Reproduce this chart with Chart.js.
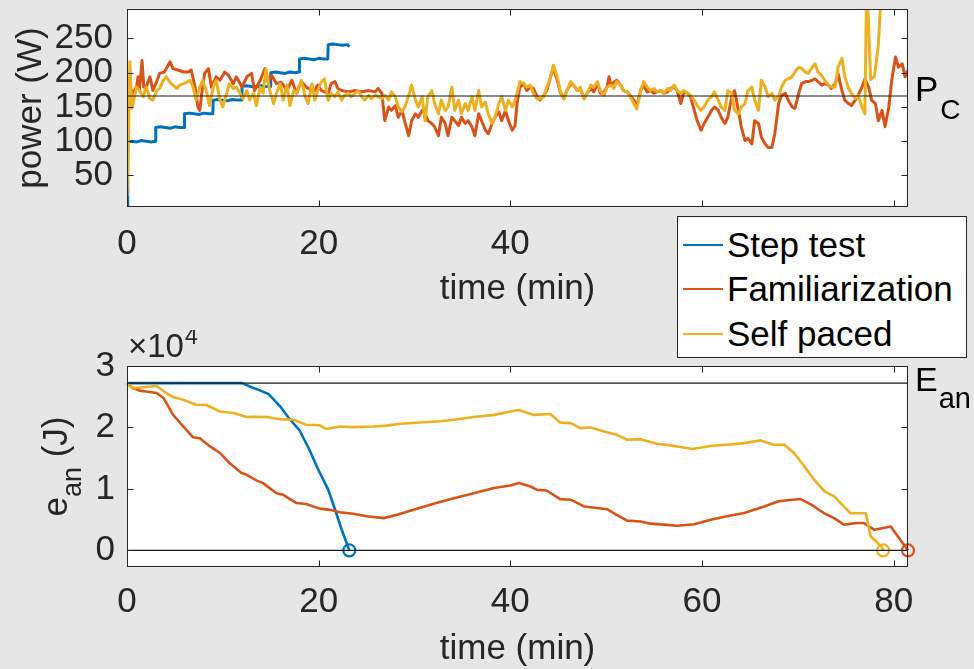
<!DOCTYPE html>
<html>
<head>
<meta charset="utf-8">
<script src="https://cdn.jsdelivr.net/npm/chart.js@4/dist/chart.umd.min.js"></script>
<style>
html,body{margin:0;padding:0;width:974px;height:669px;overflow:hidden;background:#e6e6e6;}
canvas{position:absolute;left:0;}
#c1{top:0;}
#c2{top:330px;}
#legend{position:absolute;left:677px;top:216px;width:290px;height:142px;box-sizing:border-box;background:#fff;border:1px solid #262626;font-family:'Liberation Sans',Arial,Helvetica,sans-serif;font-size:35px;color:#000;z-index:5;}
#legend .row{position:absolute;left:0;height:40px;line-height:40px;white-space:nowrap;}
#legend .sw{position:absolute;left:5px;top:19px;width:40px;height:2px;}
#legend .tx{position:absolute;left:49px;top:0;}
</style>
</head>
<body>
<canvas id="c1" width="974" height="330"></canvas>
<canvas id="c2" width="974" height="339"></canvas>
<div id="legend">
  <div class="row" style="top:8px"><span class="sw" style="background:#0072BD"></span><span class="tx">Step test</span></div>
  <div class="row" style="top:52px"><span class="sw" style="background:#D95319"></span><span class="tx">Familiarization</span></div>
  <div class="row" style="top:97px"><span class="sw" style="background:#EDB120"></span><span class="tx">Self paced</span></div>
</div>
<script>
// ---------- axis limits and ticks ----------
const timeMin = 0, timeMax = 81.5;
const timeTicks = [0, 20, 40, 60, 80];
const powerMin = 4, powerMax = 293;
const powerTicks = [50, 100, 150, 200, 250];
const energyMin = -2700, energyMax = 30000;
const energyTicks = [0, 10000, 20000, 30000];
const criticalPower = 166;        // P_C (W)
const anaerobicCapacity = 27220;  // E_an (J)

// ---------- power (W) ----------
const stepTime = [
  0, 0.05, 0.1, 0.5, 1.0, 1.5, 2.0, 2.5, 2.95, 3.0,
  3.5, 4.0, 4.5, 5.0, 5.5, 5.95, 6.0, 6.5, 7.0, 7.5,
  8.0, 8.5, 8.95, 9.0, 9.5, 10.0, 10.5, 11.0, 11.5, 11.95,
  12.0, 12.5, 13.0, 13.5, 14.0, 14.5, 14.95, 15.0, 15.5, 16.0,
  16.5, 17.0, 17.5, 17.95, 18.0, 18.5, 19.0, 19.5, 20.0, 20.5,
  20.95, 21.0, 21.5, 22.0, 22.5, 23.0, 23.2
];
const stepPower = [
  4, 60, 99, 100, 99, 101, 100, 99, 100, 120,
  121, 120, 119, 121, 120, 120, 140, 141, 140, 139,
  141, 140, 140, 160, 161, 160, 159, 161, 160, 160,
  180, 181, 180, 179, 181, 180, 180, 200, 201, 200,
  199, 201, 200, 201, 220, 221, 220, 219, 221, 220,
  220, 241, 242, 241, 240, 241, 238
];

const famTime = [
  0, 0.15, 0.3, 0.6, 1.0, 1.15, 1.3, 1.57, 1.75, 2.0,
  2.4, 2.7, 3.1, 3.4, 3.9, 4.5, 4.8, 5.3, 5.9, 6.4,
  6.7, 7.1, 7.4, 7.6, 7.8, 8.1, 8.5, 8.8, 9.3, 9.7,
  10.2, 10.6, 11.1, 11.4, 12.0, 12.5, 13.0, 13.3, 13.9, 14.4,
  14.7, 15.1, 15.6, 16.1, 16.7, 17.2, 17.7, 18.2, 18.7, 19.3,
  19.6, 19.9, 20.3, 21.0, 21.3, 21.7, 22.0, 22.4, 23.1, 23.8,
  24.5, 25.2, 25.9, 26.2, 26.6, 26.9, 27.3, 27.6, 28.0, 28.3,
  28.7, 29.0, 29.4, 29.7, 30.1, 30.4, 30.8, 31.1, 31.4, 31.8,
  32.1, 32.5, 32.8, 33.2, 33.5, 33.9, 34.2, 34.6, 34.9, 35.3,
  35.6, 36.0, 36.3, 36.7, 37.0, 37.4, 37.7, 38.1, 38.4, 38.8,
  39.1, 39.5, 39.8, 40.2, 40.5, 40.7, 41.0, 41.4, 41.7, 42.1,
  42.4, 42.8, 43.1, 43.5, 43.8, 44.2, 44.5, 44.9, 45.2, 45.6,
  45.9, 46.3, 46.6, 47.0, 47.3, 47.7, 48.0, 48.4, 48.7, 49.1,
  49.4, 49.8, 50.1, 50.3, 50.5, 50.8, 51.1, 51.5, 51.8, 52.2,
  52.5, 52.9, 53.2, 53.6, 53.9, 54.3, 54.6, 55.0, 55.3, 55.7,
  56.0, 56.4, 56.7, 57.1, 57.4, 57.8, 58.1, 58.5, 58.8, 59.2,
  59.5, 59.9, 60.2, 60.6, 61.0, 61.3, 61.7, 62.0, 62.4, 62.7,
  63.1, 63.4, 63.8, 64.1, 64.5, 64.8, 65.2, 65.5, 65.9, 66.2,
  66.6, 66.9, 67.3, 67.6, 68.0, 68.3, 68.7, 69.0, 69.4, 69.7,
  70.1, 70.4, 70.8, 71.1, 71.5, 71.8, 72.1, 72.5, 72.8, 73.2,
  73.5, 73.9, 74.2, 74.6, 74.9, 75.3, 75.6, 76.0, 76.3, 76.7,
  77.0, 77.4, 77.7, 78.1, 78.4, 78.8, 79.1, 79.5, 79.8, 80.2,
  80.5, 80.9, 81.2, 81.5
];
const famPower = [
  30, 175, 179, 170, 179, 194, 174, 218, 179, 179,
  194, 174, 187, 199, 201, 216, 206, 204, 201, 201,
  204, 179, 150, 145, 170, 199, 206, 179, 194, 189,
  201, 196, 184, 194, 179, 194, 199, 174, 189, 206,
  187, 196, 184, 186, 174, 189, 170, 187, 179, 174,
  174, 182, 174, 170, 184, 187, 177, 174, 172, 174,
  172, 174, 172, 177, 170, 130, 150, 145, 152, 135,
  145, 128, 108, 130, 140, 135, 145, 140, 130, 126,
  121, 108, 135, 126, 108, 135, 130, 123, 135, 126,
  130, 121, 108, 140, 130, 116, 111, 126, 135, 143,
  130, 145, 130, 116, 123, 155, 179, 184, 174, 179,
  177, 165, 160, 167, 174, 194, 206, 189, 172, 162,
  174, 184, 182, 174, 177, 162, 170, 177, 172, 184,
  170, 172, 179, 194, 182, 186, 189, 182, 174, 172,
  167, 160, 152, 174, 182, 172, 174, 170, 172, 174,
  170, 172, 177, 179, 174, 155, 172, 170, 165, 145,
  130, 116, 125, 135, 145, 150, 145, 135, 126, 135,
  165, 174, 145, 121, 101, 104, 96, 130, 126, 106,
  96, 91, 91, 111, 155, 167, 170, 160, 150, 148,
  170, 184, 187, 187, 189, 191, 187, 182, 184, 182,
  177, 184, 199, 174, 160, 155, 152, 160, 167, 179,
  191, 179, 160, 155, 130, 145, 121, 150, 189, 223,
  208, 213, 194, 204
];

const selfTime = [
  0, 0.15, 0.3, 0.5, 0.63, 1.0, 1.3, 1.7, 2.0, 2.4,
  2.7, 3.1, 3.4, 3.8, 4.1, 4.5, 4.8, 5.2, 5.5, 5.9,
  6.2, 6.6, 6.9, 7.2, 7.6, 7.9, 8.3, 8.6, 9.0, 9.3,
  9.7, 10.0, 10.4, 10.7, 11.1, 11.4, 11.8, 12.1, 12.5, 12.8,
  13.2, 13.5, 13.9, 14.2, 14.5, 14.9, 15.3, 15.6, 16.0, 16.3,
  16.7, 17.0, 17.4, 17.7, 18.2, 18.6, 18.9, 19.3, 19.6, 19.9,
  20.3, 20.6, 21.0, 21.3, 21.7, 22.0, 22.4, 22.7, 23.1, 23.4,
  23.8, 24.1, 24.5, 24.8, 25.2, 25.5, 25.9, 26.2, 26.6, 26.9,
  27.3, 27.6, 28.0, 28.3, 28.7, 29.0, 29.4, 29.7, 30.1, 30.4,
  30.8, 31.1, 31.4, 31.8, 32.1, 32.5, 32.8, 33.2, 33.5, 33.9,
  34.2, 34.6, 34.9, 35.3, 35.6, 36.0, 36.3, 36.7, 37.0, 37.4,
  37.7, 38.1, 38.4, 38.8, 39.1, 39.5, 39.8, 40.2, 40.5, 40.7,
  41.0, 41.4, 41.7, 42.1, 42.4, 42.8, 43.1, 43.5, 43.8, 44.2,
  44.5, 44.9, 45.2, 45.6, 45.9, 46.3, 46.6, 47.0, 47.3, 47.7,
  48.0, 48.4, 48.7, 49.1, 49.4, 49.8, 50.1, 50.5, 50.8, 51.1,
  51.5, 51.8, 52.2, 52.5, 52.9, 53.2, 53.6, 53.9, 54.3, 54.6,
  55.0, 55.3, 55.7, 56.0, 56.4, 56.7, 57.1, 57.4, 57.8, 58.1,
  58.5, 58.8, 59.2, 59.5, 59.9, 60.2, 60.6, 61.0, 61.3, 61.7,
  62.0, 62.4, 62.7, 63.1, 63.4, 63.8, 64.1, 64.5, 64.8, 65.2,
  65.5, 65.9, 66.2, 66.6, 66.9, 67.3, 67.6, 68.0, 68.3, 68.7,
  69.0, 69.4, 69.7, 70.1, 70.4, 70.8, 71.1, 71.5, 71.8, 72.1,
  72.5, 72.8, 73.2, 73.5, 73.9, 74.2, 74.6, 74.9, 75.3, 75.6,
  76.0, 76.3, 76.7, 77.0, 77.2, 77.6, 78.0, 78.4, 78.8, 79.0
];
const selfPower = [
  20, 100, 216, 148, 155, 179, 174, 165, 179, 162,
  160, 174, 177, 189, 194, 186, 182, 177, 182, 184,
  186, 189, 179, 160, 179, 189, 172, 152, 179, 189,
  160, 150, 170, 184, 177, 179, 170, 162, 174, 160,
  170, 152, 179, 170, 206, 174, 155, 170, 184, 160,
  182, 152, 174, 170, 189, 165, 155, 184, 160, 174,
  187, 191, 160, 170, 165, 172, 160, 167, 170, 165,
  170, 174, 165, 160, 167, 162, 167, 165, 162, 167,
  160, 172, 165, 150, 143, 150, 167, 182, 160, 150,
  165, 130, 165, 174, 155, 140, 160, 145, 150, 179,
  145, 160, 140, 155, 145, 165, 145, 174, 150, 157,
  140, 126, 135, 155, 165, 145, 160, 150, 160, 170,
  187, 184, 179, 182, 170, 162, 162, 165, 179, 194,
  211, 194, 174, 162, 174, 187, 182, 174, 179, 162,
  170, 182, 179, 187, 174, 167, 179, 182, 177, 187,
  182, 174, 172, 165, 155, 147, 174, 187, 179, 174,
  177, 172, 174, 170, 177, 174, 182, 174, 170, 174,
  170, 167, 160, 152, 145, 150, 160, 165, 172, 160,
  150, 145, 174, 170, 145, 140, 150, 155, 174, 179,
  160, 145, 189, 179, 165, 170, 160, 165, 179, 189,
  191, 194, 201, 208, 206, 201, 199, 208, 213, 201,
  196, 189, 182, 179, 179, 208, 221, 194, 177, 170,
  162, 167, 150, 140, 340, 190, 195, 240, 340, 360
];

// ---------- anaerobic energy e_an (J) ----------
const stepEnergyTime = [0, 12.0, 13.0, 14.0, 14.8, 16.0, 17.0, 18.0, 19.0, 20.0, 21.0, 21.7, 22.4, 23.2];
const stepEnergy     = [27220, 27220, 26550, 25950, 25400, 23400, 21300, 19550, 16500, 13000, 9900, 6700, 3400, 0];

const famEnergyTime = [
  0, 0.6, 1.3, 2.0, 3.1, 3.8, 4.8, 5.85, 6.9, 7.6,
  8.6, 9.7, 10.7, 11.95, 12.5, 13.5, 14.2, 15.6, 16.3, 17.7,
  18.7, 20.1, 21.2, 22.2, 23.6, 25.0, 26.8, 28.2, 29.9, 32.0,
  34.1, 36.2, 38.3, 40.0, 40.9, 42.1, 42.8, 43.8, 45.2, 46.3,
  47.7, 50.1, 51.1, 52.2, 53.6, 54.6, 56.4, 57.4, 59.2, 60.9,
  62.6, 64.4, 66.5, 67.9, 68.9, 70.3, 71.4, 72.8, 73.8, 74.8,
  76.2, 76.9, 78.0, 79.7, 81.5
];
const famEnergy = [
  27220, 26400, 26000, 25850, 25600, 24800, 22100, 20200, 18400, 18250,
  17000, 15850, 14200, 12600, 12300, 11400, 10950, 9300, 9050, 7700,
  7550, 6800, 6600, 6200, 5950, 5550, 5250, 5800, 6600, 7600,
  8500, 9300, 10150, 10550, 10950, 10400, 9850, 9750, 8350, 8250,
  7150, 6700, 5800, 4850, 4700, 4350, 4150, 4000, 4250, 5000,
  5550, 6100, 7150, 7950, 8150, 8350, 7450, 6000, 5250, 4200,
  4450, 4450, 3350, 3900, 0
];

const selfEnergyTime = [
  0, 0.3, 0.8, 1.7, 3.1, 4.1, 4.8, 5.85, 7.2, 8.3,
  9.7, 11.1, 12.5, 13.2, 14.6, 16.0, 17.4, 18.7, 20.1, 20.8,
  22.2, 23.6, 25.7, 27.1, 28.5, 30.6, 32.7, 34.1, 36.2, 38.3,
  40.0, 40.9, 42.4, 44.2, 45.2, 46.3, 47.3, 48.4, 49.8, 51.1,
  52.2, 53.6, 55.3, 57.1, 59.0, 60.9, 62.6, 64.4, 66.1, 67.5,
  68.6, 69.6, 70.7, 71.7, 72.8, 73.8, 74.8, 75.5, 77.1, 77.6,
  78.7, 78.9
];
const selfEnergy = [
  27220, 26700, 26400, 26550, 26750, 25600, 24950, 24500, 23700, 23650,
  22600, 22350, 21700, 21750, 21700, 21350, 21250, 20450, 20350, 19750,
  20150, 20050, 20150, 20300, 20600, 20800, 21000, 21250, 21700, 22050,
  22600, 22850, 22050, 22200, 20800, 20700, 19900, 20000, 19350, 18800,
  18000, 18100, 17350, 17000, 16500, 17000, 17200, 17450, 17900, 17200,
  17200, 15850, 13650, 11500, 9600, 8800, 7150, 6050, 6050, 2300,
  650, 0
];

// ---------- styling ----------
const FONT = "'Liberation Sans', Arial, Helvetica, sans-serif";
const AX = '#262626';
const BLUE = '#0072BD', ORANGE = '#D95319', YELLOW = '#EDB120';

const pts = (xs, ys) => xs.map((x, i) => ({x: x, y: ys[i]}));

function framePlugin(drawText) {
  return {
    id: 'matlabFrame',
    beforeDraw(chart) {
      const {ctx, chartArea: a} = chart;
      ctx.save();
      ctx.fillStyle = '#ffffff';
      ctx.fillRect(a.left, a.top, a.right - a.left, a.bottom - a.top);
      ctx.restore();
    },
    afterDraw(chart) {
      const {ctx, chartArea: a, scales} = chart;
      ctx.save();
      ctx.strokeStyle = AX;
      ctx.lineWidth = 1;
      const L = Math.round(a.left) + 0.5, R = Math.round(a.right) - 0.5;
      const T = Math.round(a.top) + 0.5, B = Math.round(a.bottom) - 0.5;
      ctx.strokeRect(L, T, R - L, B - T);
      const len = 6;
      ctx.beginPath();
      scales.x.ticks.forEach(t => {
        const px = Math.round(scales.x.getPixelForValue(t.value)) + 0.5;
        ctx.moveTo(px, B); ctx.lineTo(px, B - len);
        ctx.moveTo(px, T); ctx.lineTo(px, T + len);
      });
      scales.y.ticks.forEach(t => {
        const py = Math.round(scales.y.getPixelForValue(t.value)) + 0.5;
        ctx.moveTo(L, py); ctx.lineTo(L + len, py);
        ctx.moveTo(R, py); ctx.lineTo(R - len, py);
      });
      ctx.stroke();
      drawText(chart, ctx);
      ctx.restore();
    }
  };
}

function xScale(height, pad) {
  return {
    type: 'linear', min: timeMin, max: timeMax,
    afterBuildTicks: s => { s.ticks = timeTicks.map(v => ({value: v})); },
    afterFit: s => { s.height = height; s.paddingLeft = 0; s.paddingRight = 0; },
    grid: {display: false, drawTicks: false}, border: {display: false},
    ticks: {padding: pad, color: AX, font: {family: FONT, size: 35}, autoSkip: false, maxRotation: 0, callback: v => String(v)}
  };
}

function yScale(min, max, tickList, pad, fmt) {
  return {
    type: 'linear', min: min, max: max,
    afterBuildTicks: s => { s.ticks = tickList.map(v => ({value: v})); },
    afterFit: s => { s.width = 127; s.paddingTop = 0; s.paddingBottom = 0; },
    grid: {display: false, drawTicks: false}, border: {display: false},
    ticks: {padding: pad, color: AX, font: {family: FONT, size: 35}, autoSkip: false, callback: fmt}
  };
}

function drawTopText(chart, ctx) {
  const a = chart.chartArea, y = chart.scales.y;
  ctx.textAlign = 'left'; ctx.textBaseline = 'alphabetic';
  ctx.fillStyle = '#000';
  const py = y.getPixelForValue(criticalPower);
  ctx.font = '35px ' + FONT;
  ctx.fillText('P', a.right + 7, py + 4.5);
  const wP = ctx.measureText('P').width;
  ctx.font = '28px ' + FONT;
  ctx.fillText('C', a.right + 7 + wP + 2, py + 22.5);
  ctx.fillStyle = AX;
  ctx.font = '35px ' + FONT;
  ctx.textAlign = 'center';
  ctx.fillText('time (min)', (a.left + a.right) / 2, a.bottom + 92);
  ctx.save();
  ctx.translate(41, (a.top + a.bottom) / 2);
  ctx.rotate(-Math.PI / 2);
  ctx.fillText('power (W)', 0, 0);
  ctx.restore();
}

function drawBottomText(chart, ctx) {
  const a = chart.chartArea, y = chart.scales.y;
  ctx.textAlign = 'left'; ctx.textBaseline = 'alphabetic';
  ctx.fillStyle = '#000';
  const pe = y.getPixelForValue(anaerobicCapacity);
  ctx.font = '34px ' + FONT;
  ctx.fillText('E', a.right + 7, pe + 8);
  const wE = ctx.measureText('E').width;
  ctx.font = '29px ' + FONT;
  ctx.fillText('an', a.right + 7 + wE + 1, pe + 25);
  ctx.fillStyle = AX;
  ctx.font = '33px ' + FONT;
  ctx.fillText('\u00d710', a.left + 1, a.top - 9);
  const wx = ctx.measureText('\u00d710').width;
  ctx.font = '23px ' + FONT;
  ctx.fillText('4', a.left + 1 + wx + 1, a.top - 22);
  ctx.font = '35px ' + FONT;
  ctx.textAlign = 'center';
  ctx.fillText('time (min)', (a.left + a.right) / 2, a.bottom + 92);
  ctx.textAlign = 'left';
  ctx.font = '35px ' + FONT;
  const w1 = ctx.measureText('e').width, w3 = ctx.measureText(' (J)').width;
  ctx.font = '27px ' + FONT;
  const w2 = ctx.measureText('an').width;
  const total = w1 + w2 + w3;
  ctx.save();
  ctx.translate(67, (a.top + a.bottom) / 2 + total / 2);
  ctx.rotate(-Math.PI / 2);
  ctx.font = '35px ' + FONT; ctx.fillText('e', 0, 0);
  ctx.font = '27px ' + FONT; ctx.fillText('an', w1, 14);
  ctx.font = '35px ' + FONT; ctx.fillText(' (J)', w1 + w2, 0);
  ctx.restore();
}

const common = {
  responsive: false, animation: false, events: [],
  plugins: {legend: {display: false}, tooltip: {enabled: false}},
  elements: {line: {tension: 0, borderJoinStyle: 'round'}, point: {radius: 0}}
};

// ---------- top: power ----------
new Chart(document.getElementById('c1'), {
  type: 'line',
  data: {datasets: [
    {label: 'P_C', data: [{x: timeMin, y: criticalPower}, {x: timeMax, y: criticalPower}], borderColor: '#1a1a1a', borderWidth: 1.2, pointRadius: 0, order: 0},
    {label: 'Self paced', data: pts(selfTime, selfPower), borderColor: YELLOW, borderWidth: 3, pointRadius: 0, order: 1},
    {label: 'Familiarization', data: pts(famTime, famPower), borderColor: ORANGE, borderWidth: 3, pointRadius: 0, order: 2},
    {label: 'Step test', data: pts(stepTime, stepPower), borderColor: BLUE, borderWidth: 3, pointRadius: 0, order: 3}
  ]},
  options: Object.assign({}, common, {
    layout: {padding: {top: 9, right: 66, left: 0, bottom: 0}},
    scales: {
      x: xScale(123, 16),
      y: yScale(powerMin, powerMax, powerTicks, 14, v => String(v))
    }
  }),
  plugins: [framePlugin(drawTopText)]
});

// ---------- bottom: anaerobic energy ----------
const endMarker = ctx => ctx.dataIndex === ctx.dataset.data.length - 1 ? 6 : 0;
new Chart(document.getElementById('c2'), {
  type: 'line',
  data: {datasets: [
    {label: 'E_an', data: [{x: timeMin, y: anaerobicCapacity}, {x: timeMax, y: anaerobicCapacity}], borderColor: '#1a1a1a', borderWidth: 1.2, pointRadius: 0, order: 0},
    {label: 'zero', data: [{x: timeMin, y: 0}, {x: timeMax, y: 0}], borderColor: '#1a1a1a', borderWidth: 1.2, pointRadius: 0, order: 0},
    {label: 'Self paced', data: pts(selfEnergyTime, selfEnergy), borderColor: YELLOW, borderWidth: 2.6, pointRadius: endMarker, pointBorderWidth: 2.2, pointBorderColor: YELLOW, pointBackgroundColor: 'rgba(0,0,0,0)', clip: false, order: 1},
    {label: 'Familiarization', data: pts(famEnergyTime, famEnergy), borderColor: ORANGE, borderWidth: 2.6, pointRadius: endMarker, pointBorderWidth: 2.2, pointBorderColor: ORANGE, pointBackgroundColor: 'rgba(0,0,0,0)', clip: false, order: 2},
    {label: 'Step test', data: pts(stepEnergyTime, stepEnergy), borderColor: BLUE, borderWidth: 2.6, pointRadius: endMarker, pointBorderWidth: 2.2, pointBorderColor: BLUE, pointBackgroundColor: 'rgba(0,0,0,0)', clip: false, order: 3}
  ]},
  options: Object.assign({}, common, {
    layout: {padding: {top: 36, right: 66, left: 0, bottom: 0}},
    scales: {
      x: xScale(102, 14),
      y: yScale(energyMin, energyMax, energyTicks, 12, v => String(v / 10000))
    }
  }),
  plugins: [framePlugin(drawBottomText)]
});
</script>
</body>
</html>
